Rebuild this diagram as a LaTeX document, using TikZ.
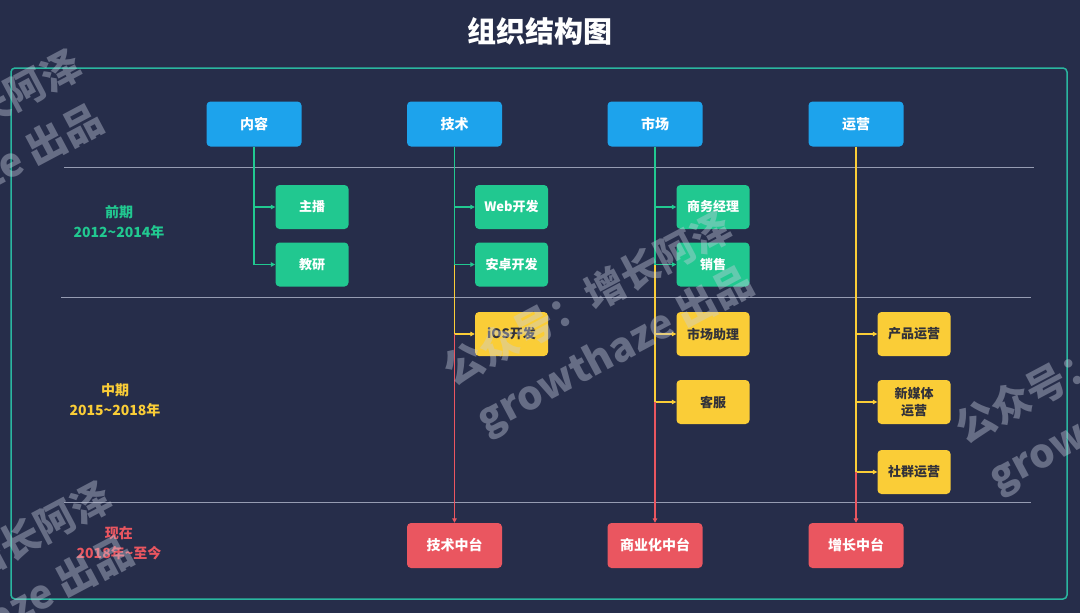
\documentclass[tikz,border=0pt]{standalone}
\usepackage{fontspec}
\setmainfont{Noto Sans CJK SC}
\usepackage{xcolor}
\usetikzlibrary{arrows.meta,positioning,calc}
\definecolor{orgbg}{RGB}{38,45,74}
\definecolor{orgframe}{RGB}{42,182,160}
\definecolor{orgblue}{RGB}{29,163,236}
\definecolor{orggreen}{RGB}{33,200,144}
\definecolor{orgyellow}{RGB}{250,205,55}
\definecolor{orgred}{RGB}{234,86,96}
\definecolor{orgsep}{RGB}{150,156,178}
\definecolor{orgtext}{RGB}{50,50,58}
\definecolor{orgmark}{RGB}{200,205,222}

\begin{document}
\begin{tikzpicture}[x=1pt, y=-1pt,
    box/.style={rectangle, rounded corners=4pt, inner sep=0pt, align=center, font=\fontsize{13}{17}\selectfont\bfseries},
    headbox/.style={box, fill=orgblue, text=white, minimum width=95pt, minimum height=45pt, font=\fontsize{14}{17}\selectfont\bfseries},
    earlybox/.style={box, fill=orggreen, text=white, minimum width=73pt, minimum height=44pt},
    midbox/.style={box, fill=orgyellow, text=orgtext, minimum width=73pt, minimum height=44pt},
    hubbox/.style={headbox, fill=orgred},
    phase/.style={align=center, font=\fontsize{14}{20}\selectfont\bfseries},
    link/.style={line width=1.1pt, -{Triangle[length=4.5pt,width=4.5pt]}},
    wmark/.style={align=center, text=orgmark, text opacity=0.4, rotate=28, font=\fontsize{40}{58}\selectfont\bfseries}]
    % Background and page size
    \fill[orgbg] (0,0) rectangle (1080,613);
    \useasboundingbox (0,0) rectangle (1080,613);
    \clip (0,0) rectangle (1080,613);
    
    % Title
    \node[text=white, font=\fontsize{29}{32}\selectfont\bfseries] (title) at (540,31) {组织结构图};
    
    % Outer frame
    \draw[orgframe, line width=1.5pt, rounded corners=4pt] (11,68) rectangle (1067,599);
    
    % Phase separators
    \draw[orgsep, line width=0.8pt] (64,167) -- (1034,167);
    \draw[orgsep, line width=0.8pt] (61,297.5) -- (1031,297.5);
    \draw[orgsep, line width=0.8pt] (64,502) -- (1031,502);
    
    % Phase labels
    \node[phase, text=orggreen] (early) at (119,222) {前期\\2012\textasciitilde{}2014年};
    \node[phase, text=orgyellow] (middle) at (115,400) {中期\\2015\textasciitilde{}2018年};
    \node[phase, text=orgred] (now) at (119,543) {现在\\2018年\textasciitilde{}至今};
    
    % Departments
    \node[headbox] (content) at (254,124) {内容};
    \node[headbox] (tech) at (454.5,124) {技术};
    \node[headbox] (market) at (655,124) {市场};
    \node[headbox] (ops) at (856,124) {运营};
    
    % Early roles
    \node[earlybox] (host) at (312,207) {主播};
    \node[earlybox] (research) at (312,264.5) {教研};
    \node[earlybox] (web) at (511.5,207) {Web开发};
    \node[earlybox] (android) at (511.5,264.5) {安卓开发};
    \node[earlybox] (bizmgr) at (713,207) {商务经理};
    \node[earlybox] (sales) at (713,264.5) {销售};
    
    % Middle roles
    \node[midbox] (ios) at (511.5,334) {iOS开发};
    \node[midbox] (assist) at (713,334) {市场助理};
    \node[midbox] (service) at (713,402) {客服};
    \node[midbox] (prodops) at (914,334) {产品运营};
    \node[midbox] (mediaops) at (914,402) {新媒体\\运营};
    \node[midbox] (groupops) at (914,472) {社群运营};
    
    % Current platforms
    \node[hubbox] (techhub) at (454.5,545.5) {技术中台};
    \node[hubbox] (bizhub) at (655,545.5) {商业化中台};
    \node[hubbox] (growthhub) at (856,545.5) {增长中台};
    
    % Content branch
    \draw[link, orggreen] (content.south) |- (research.west);
    \draw[link, orggreen] (content.south |- host) -- (host.west);
    
    % Tech branch
    \draw[link, orggreen] (tech.south) |- (android.west);
    \draw[link, orggreen] (tech.south |- web) -- (web.west);
    \draw[link, orgyellow] (tech.south |- android) |- (ios.west);
    \draw[link, orgred] (tech.south |- ios) -- (techhub.north);
    
    % Market branch
    \draw[link, orggreen] (market.south) |- (sales.west);
    \draw[link, orggreen] (market.south |- bizmgr) -- (bizmgr.west);
    \draw[link, orgyellow] (market.south |- sales) |- (service.west);
    \draw[link, orgyellow] (market.south |- assist) -- (assist.west);
    \draw[link, orgred] (market.south |- service) -- (bizhub.north);
    
    % Ops branch
    \draw[link, orgyellow] (ops.south) |- (groupops.west);
    \draw[link, orgyellow] (ops.south |- prodops) -- (prodops.west);
    \draw[link, orgyellow] (ops.south |- mediaops) -- (mediaops.west);
    \draw[link, orgred] (ops.south |- groupops) -- (growthhub.north);
    
    % Watermarks
    \node[wmark] (markmid) at (602,326) {公众号：增长阿泽\\growthaze 出品};
    \node[wmark] (marktl) at (-48,164) {公众号：增长阿泽\\growthaze 出品};
    \node[wmark] (markbl) at (-18,596) {公众号：增长阿泽\\growthaze 出品};
    \node[wmark] (markr) at (1114,384) {公众号：增长阿泽\\growthaze 出品};
\end{tikzpicture}
\end{document}
